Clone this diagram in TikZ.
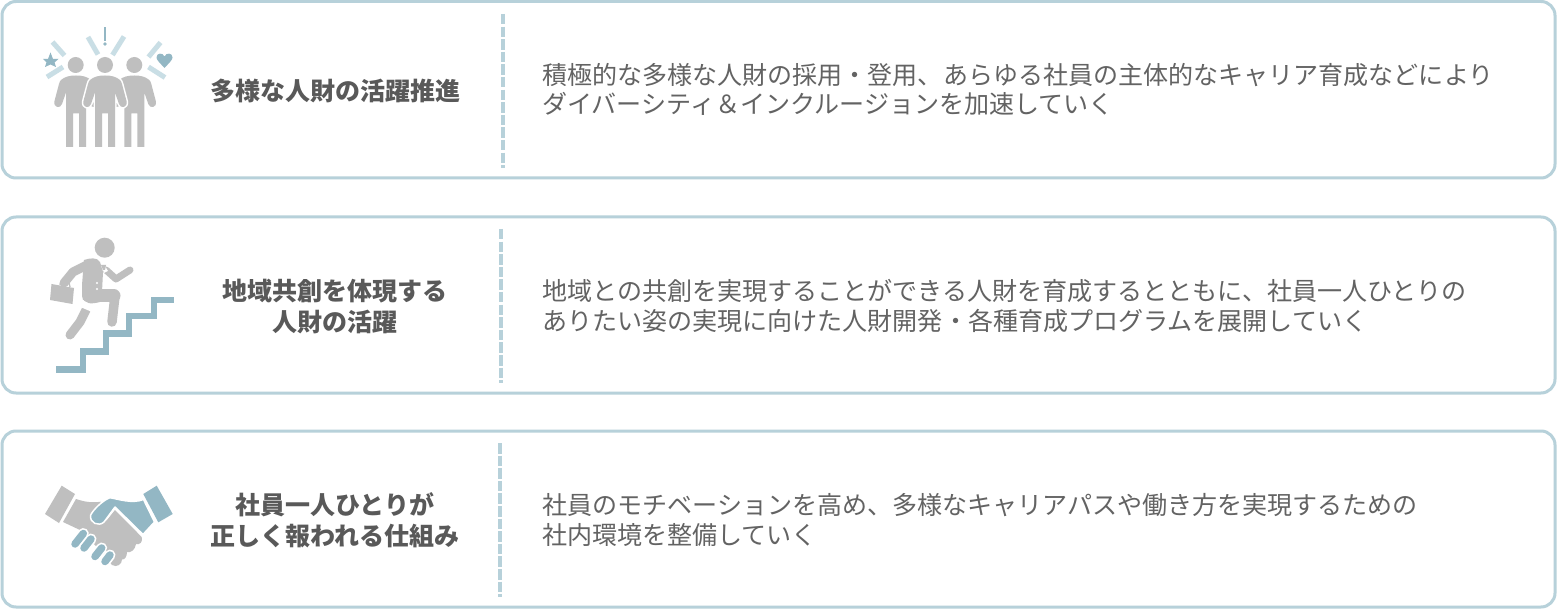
\documentclass[tikz,border=0pt]{standalone}
\usepackage{fontspec}
\setmainfont{Noto Sans CJK JP}
\definecolor{frameC}{HTML}{B7D1DA}
\definecolor{tealC}{HTML}{93B7C4}
\definecolor{paleC}{HTML}{C9DEE5}
\definecolor{grayC}{HTML}{BFBFBF}
\definecolor{textC}{HTML}{595959}
\definecolor{bodyC}{HTML}{636363}
\tikzset{
 x=1pt,y=-1pt,
 panel/.style={draw=frameC,line width=3pt,rounded corners=14pt,fill=white},
 sep/.style={draw=frameC,line width=3.2pt,dash pattern=on 10.5pt off 2.1pt},
 head/.style={font=\fontsize{25}{31}\selectfont\bfseries,text=textC,align=center,inner sep=0},
 body/.style={font=\fontsize{25.05}{30.6}\selectfont,text=bodyC,align=left,anchor=west,inner sep=0},
 pale/.style={draw=paleC,line width=5pt},
 gr/.style={fill=grayC,draw=none},
 te/.style={fill=tealC,draw=none},
 limb/.style={draw=grayC,line cap=round,line join=round},
 halo/.style={draw=white,line cap=round,line join=round},
 finger/.style={draw=tealC,line width=7.5pt,line cap=round},
 fingerhalo/.style={draw=white,line width=11pt,line cap=round},
}
\newcommand{\personpath}{(0,75.5) .. controls (6,75.5) and (11,76.5) .. (15,80) .. controls (16,81) and (16.5,82) .. (17,84) -- (21.5,101) .. controls (23,108) and (15.5,109) .. (14,104) -- (10,92.5) -- (10,147) -- (3,147) -- (3,113.5) -- (-3,113.5) -- (-3,147) -- (-10,147) -- (-10,92.5) -- (-14,104) .. controls (-15.5,109) and (-23,108) .. (-21.5,101) -- (-17,84) .. controls (-16.5,82) and (-16,81) .. (-15,80) .. controls (-11,76.5) and (-6,75.5) .. (0,75.5) -- cycle}
\begin{document}
\begin{tikzpicture}
\useasboundingbox (0,0) rectangle (1557,609);
\fill[white] (0,0) rectangle (1557,609);
\draw[panel] (2,1.5) rectangle (1555,178);
\draw[panel] (2,217) rectangle (1555,393);
\draw[panel] (2,431) rectangle (1555,607);
\coordinate (s1a) at (503,14); \coordinate (s1b) at (503,168);
\coordinate (s2a) at (501,229); \coordinate (s2b) at (501,383);
\coordinate (s3a) at (500,443); \coordinate (s3b) at (500,597);
\draw[sep] (s1a)--(s1b); \draw[sep] (s2a)--(s2b); \draw[sep] (s3a)--(s3b);
\node[head] (h1) at (335,91) {多様な人財の活躍推進};
\node[head] (h2) at (335,307) {地域共創を体現する\\人財の活躍};
\node[head] (h3) at (335,520) {社員一人ひとりが\\正しく報われる仕組み};
\node[body] (b1) at (542,89.5) {積極的な多様な人財の採用・登用、あらゆる社員の主体的なキャリア育成などにより\\[-2pt]ダイバーシティ＆インクルージョンを加速していく};
\node[body] (b2) at (542,306) {地域との共創を実現することができる人財を育成するとともに、社員一人ひとりの\\ありたい姿の実現に向けた人財開発・各種育成プログラムを展開していく};
\node[body] (b3) at (542,520) {社員のモチベーションを高め、多様なキャリアパスや働き方を実現するための\\社内環境を整備していく};
% icon 1
\begin{scope}[shift={(76,0)}]\fill[gr] \personpath;\end{scope}
\begin{scope}[shift={(134.3,0)}]\fill[gr] \personpath;\end{scope}
\begin{scope}[shift={(105,0)}]\draw[draw=white,line width=3pt,fill=grayC,line join=round] \personpath;\fill[gr] \personpath;\end{scope}
\fill[gr] (75.7,65) circle (8) (105,65) circle (8) (134.3,65) circle (8);
\draw[pale] (52.5,42)--(64.5,55.5);
\draw[pale] (47,77)--(63,67);
\draw[pale] (88,37)--(98,54.5);
\draw[pale] (124,36.5)--(112.5,55);
\draw[pale] (160.5,42.5)--(148.5,57);
\draw[pale] (148.5,67)--(165,77.5);
\fill[te] (50.5,52.5) -- (53,59) -- (58.5,59) -- (54.5,62.5) -- (56,67) -- (50.5,64.5) -- (45,67) -- (46.5,62.5) -- (43,59) -- (48,59) -- cycle;
\fill[te] (164.5,68) .. controls (160,63) and (156.5,60) .. (156.5,57.5) .. controls (156.5,52.5) and (163,52.5) .. (164.5,56.5) .. controls (166,52.5) and (172.5,52.5) .. (172.5,57.5) .. controls (172.5,60) and (169,63) .. (164.5,68) -- cycle;
\fill[te] (103.8,27) rectangle (106.2,41);
\fill[te] (105,44) circle (1.8);
% icon 2
\fill[gr] (104.7,247.7) circle (10);
\draw[limb,line width=9pt] (87,265) -- (73,272) -- (64,283);
\draw[limb,line width=7pt] (106,270) -- (116,279) -- (130,270);
\draw[halo,line width=12.5pt] (87,313) -- (81,322);
\draw[limb,line width=9pt] (86,310) -- (80,322) -- (70,335);
\fill[white] (80,300) -- (96,306) -- (92,312) -- (78,306) -- cycle;
\fill[gr] (84,260) .. controls (90,258) and (97,257) .. (100,262) -- (103,272) -- (102,292) -- (100,296) -- (83,300) -- (82,285) -- cycle;
\draw[limb,line width=13pt] (89,296) -- (114,296);
\draw[limb,line width=9.5pt] (115,296) -- (112,322);
\fill[gr] (82,285) -- (100,285) -- (100,302) .. controls (92,304) and (84,305) .. (82,296) -- cycle;
\fill[gr] (51.5,284) -- (74,288) -- (72.5,304) -- (50,300) -- cycle;
\draw[grayC,line width=1.3pt] (60,285) -- (61,281.5) -- (69,282.5) -- (70,287);
\fill[white] (101,264) -- (103,263) -- (108,271) -- (104,273) -- cycle;
\fill[gr] (101,265) -- (106,265) -- (105,270) -- (103,270) -- cycle;
\fill[white] (97,283) circle (1.1) (97,289) circle (1.1);
\draw[tealC,line width=6.5pt] (56,369.5) -- (83,369.5) -- (83,351.5) -- (106,351.5) -- (106,333.5) -- (129,333.5) -- (129,316) -- (154,316) -- (154,300) -- (174,300);
% icon 3
\fill[gr] (61.7,485.7) -- (75,494) -- (59,523) -- (45,514) -- cycle;
\fill[te] (156.7,485.7) -- (172.7,514) -- (158.3,522.3) -- (143.3,494) -- cycle;
\fill[gr] (76,499) .. controls (85,502) and (92,503) .. (101,501.7) -- (95,513) -- (92,520) .. controls (96,526) and (103,524) .. (107,520) -- (115,510) -- (141.7,537) .. controls (143,542) and (140,545) .. (136,544) .. controls (135,550) and (131,553) .. (127,552) .. controls (127,556) and (125,560) .. (122,559.5) .. controls (122,564) and (117,568) .. (112,565) -- (100,550) -- (80,530) -- (63,522) -- cycle;
\fill[te,draw=white,line width=1.5pt,line join=round] (110,497.7) .. controls (118,499) and (132,504) .. (143.5,499.5) -- (154.5,522) -- (143,534.5) -- (115,507) -- (104,522) .. controls (99,527) and (89,523) .. (90.7,515) .. controls (93,510) and (103,500) .. (110,497.7) -- cycle;
\draw[fingerhalo] (75,544) -- (83.3,533.5);
\draw[fingerhalo] (84,548) -- (91,539);
\draw[fingerhalo] (95,556.5) -- (101.7,548);
\draw[fingerhalo] (105,561.5) -- (110,555);
\draw[finger] (75,544) -- (83.3,533.5);
\draw[finger] (84,548) -- (91,539);
\draw[finger] (95,556.5) -- (101.7,548);
\draw[finger] (105,561.5) -- (110,555);
\end{tikzpicture}
\end{document}
